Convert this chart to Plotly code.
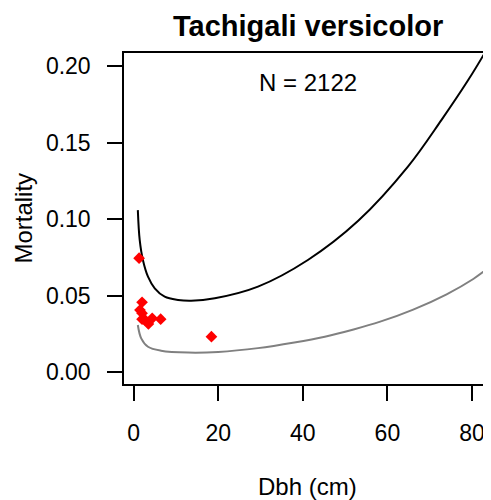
import plotly.graph_objects as go

# Observed mortality by size class (red diamonds)
obs_dbh = [1.3, 2.0, 1.5, 2.0, 2.0, 2.7, 3.5, 4.4, 6.4, 18.4]
obs_mort = [0.0746, 0.0458, 0.0407, 0.0386, 0.0347, 0.0342, 0.0316, 0.0353, 0.0347, 0.0233]

# Upper fitted curve (black)
upper_dbh = [1.0, 1.44, 2.2, 3.4, 5.0, 7.35, 10.5, 13.6, 19.2, 29.4, 41.2, 53.1, 64.9, 72.8, 79.1, 83.0, 84.5]
upper_mort = [0.106, 0.0865, 0.0734, 0.0625, 0.0549, 0.0494, 0.0473, 0.0468, 0.0484, 0.056, 0.0734,
              0.0990, 0.1346, 0.165, 0.191, 0.2087, 0.216]

# Lower fitted curve (grey)
lower_dbh = [1.0, 1.8, 3.4, 6.5, 12.9, 20.0, 29.4, 38.0, 45.2, 52.0, 58.3, 66.1, 74.0, 80.3, 84.5]
lower_mort = [0.0309, 0.0222, 0.0167, 0.0141, 0.0129, 0.0133, 0.0158, 0.0195, 0.0233, 0.028,
              0.0331, 0.0410, 0.0510, 0.0610, 0.0695]

x_ticks = [0, 20, 40, 60, 80]
y_ticks = [0.00, 0.05, 0.10, 0.15, 0.20]

title_text = "Tachigali versicolor"
n_text = "N = 2122"
x_title = "Dbh (cm)"
y_title = "Mortality"

FONT = "Liberation Sans, Arial, Helvetica, sans-serif"

fig = go.Figure()
fig.add_trace(go.Scatter(x=upper_dbh, y=upper_mort, mode="lines",
                         line=dict(color="black", width=2, shape="spline"),
                         showlegend=False, hoverinfo="skip"))
fig.add_trace(go.Scatter(x=lower_dbh, y=lower_mort, mode="lines",
                         line=dict(color="#808080", width=2, shape="spline"),
                         showlegend=False, hoverinfo="skip"))
fig.add_trace(go.Scatter(x=obs_dbh, y=obs_mort, mode="markers",
                         marker=dict(symbol="diamond", size=9, color="red", line=dict(width=0)),
                         showlegend=False))

# page body has an 8px margin, so the figure is sized/offset to compensate
fig.update_layout(
    width=483, height=492,
    margin=dict(l=116, r=0, t=45, b=116),
    paper_bgcolor="white", plot_bgcolor="white",
    font=dict(family=FONT, size=23, color="black"),
    xaxis=dict(range=[-2.27, 84.49], tickvals=x_ticks, ticktext=[str(v) for v in x_ticks],
               showgrid=False, zeroline=False, showline=True, linecolor="black", linewidth=1.5,
               mirror=True, ticks="outside", ticklen=15, tickwidth=1.5, tickcolor="black",
               ticklabelstandoff=13, tickfont=dict(size=23)),
    yaxis=dict(range=[-0.00765, 0.2087], tickvals=y_ticks, ticktext=[f"{v:.2f}" for v in y_ticks],
               showgrid=False, zeroline=False, showline=True, linecolor="black", linewidth=1.5,
               mirror=False, ticks="outside", ticklen=15, tickwidth=1.5, tickcolor="black",
               ticklabelstandoff=12, tickfont=dict(size=23)),
    annotations=[
        dict(text="<b>" + title_text + "</b>", xref="paper", yref="paper", x=0.5, y=1.0816,
             xanchor="center", yanchor="middle", showarrow=False,
             font=dict(family=FONT, size=29, color="black")),
        dict(text=n_text, xref="paper", yref="paper", x=0.5, y=0.912,
             xanchor="center", yanchor="middle", showarrow=False,
             font=dict(family=FONT, size=24, color="black")),
        dict(text=x_title, xref="paper", yref="paper", x=0.5, y=-0.311,
             xanchor="center", yanchor="middle", showarrow=False,
             font=dict(family=FONT, size=24, color="black")),
        dict(text=y_title, xref="paper", yref="paper", x=-0.275, y=0.5, textangle=-90,
             xanchor="center", yanchor="middle", showarrow=False,
             font=dict(family=FONT, size=24, color="black")),
    ],
)

fig.write_html("out.html")
